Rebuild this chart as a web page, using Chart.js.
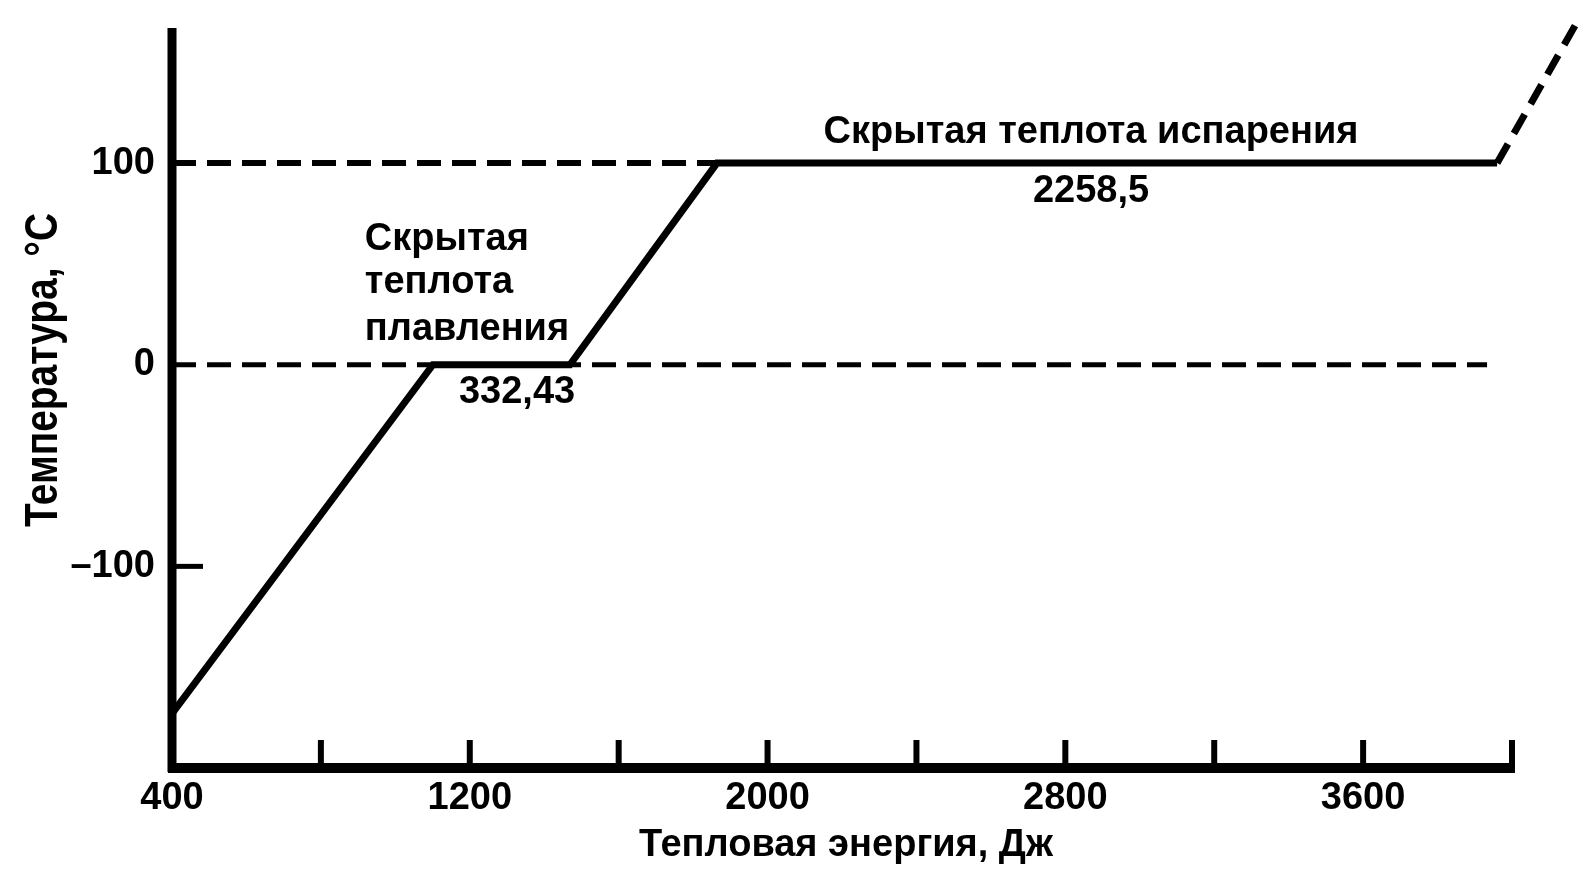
<!DOCTYPE html>
<html>
<head>
<meta charset="utf-8">
<script src="https://cdn.jsdelivr.net/npm/chart.js@4.4.1/dist/chart.umd.min.js"></script>
<style>
  html, body { margin: 0; padding: 0; background: #fff; }
  #wrap { width: 1581px; height: 871px; }
</style>
</head>
<body>
<div id="wrap"><canvas id="chart" width="1581" height="871"></canvas></div>
<script>
// Heating curve of water: heat energy (J) against temperature (°C)
const heatEnergy = [400, 1101, 1469, 1864, 3960];
const heatTemp = [-173, 0, 0, 100, 100];

// continuation into the gas phase (dashed)
const steamEnergy = [3960, 4178];
const steamTemp = [100, 171];

// dashed guide lines at the melting and boiling points
const meltGuideEnergy = [400, 3933];
const meltGuideTemp = [0, 0];
const boilGuideEnergy = [400, 1864];
const boilGuideTemp = [100, 100];

// axis ticks
const xTickValues = [400, 800, 1200, 1600, 2000, 2400, 2800, 3200, 3600, 4000];
const xTickLabels = ['400', '', '1200', '', '2000', '', '2800', '', '3600', ''];
const yTickValues = [-100, 0, 100];
const yTickLabels = ['\u2013100', '0', '100'];

// texts
const xTitle = 'Тепловая энергия, Дж';
const yTitle = 'Температура, °C';
const vaporLabel = 'Скрытая теплота испарения';
const vaporValue = '2258,5';
const fusionLabel = ['Скрытая', 'теплота', 'плавления'];
const fusionValue = '332,43';

const FONT = '"Liberation Sans", Arial, sans-serif';
const INK = '#000';

const pts = (xs, ys) => xs.map((x, i) => ({ x, y: ys[i] }));

// axis lines and inward tick marks
const axisPlugin = {
  id: 'axisLines',
  afterDatasetsDraw(chart) {
    const { ctx, chartArea: a, scales: { x, y } } = chart;
    ctx.save();
    ctx.strokeStyle = INK;
    ctx.lineCap = 'butt';
    // vertical axis
    ctx.lineWidth = 9;
    ctx.beginPath();
    ctx.moveTo(a.left, a.top);
    ctx.lineTo(a.left, a.bottom + 4);
    ctx.stroke();
    // horizontal axis up to the last tick
    const xEnd = x.getPixelForValue(xTickValues[xTickValues.length - 1]);
    ctx.lineWidth = 10;
    ctx.beginPath();
    ctx.moveTo(a.left - 4, a.bottom);
    ctx.lineTo(xEnd + 3, a.bottom);
    ctx.stroke();
    // x tick marks pointing up
    ctx.lineWidth = 6;
    xTickValues.slice(1).forEach(v => {
      const px = x.getPixelForValue(v);
      ctx.beginPath();
      ctx.moveTo(px, a.bottom);
      ctx.lineTo(px, a.bottom - 28);
      ctx.stroke();
    });
    // y tick mark at -100 pointing right
    ctx.lineWidth = 5;
    const py = y.getPixelForValue(yTickValues[0]);
    ctx.beginPath();
    ctx.moveTo(a.left, py);
    ctx.lineTo(a.left + 31, py);
    ctx.stroke();
    ctx.restore();
  }
};

// axis titles and phase annotations
const textPlugin = {
  id: 'phaseTexts',
  afterDraw(chart) {
    const { ctx, scales: { x, y } } = chart;
    ctx.save();
    ctx.fillStyle = INK;
    ctx.textBaseline = 'alphabetic';
    ctx.font = 'bold 38px ' + FONT;

    const put = (text, ex, ty, align) => {
      ctx.textAlign = align;
      ctx.fillText(text, x.getPixelForValue(ex), y.getPixelForValue(ty));
    };
    put(vaporLabel, 2869, 110, 'center');
    put(vaporValue, 2869, 80.5, 'center');
    put(fusionLabel[0], 918, 57, 'left');
    put(fusionLabel[1], 918, 35.5, 'left');
    put(fusionLabel[2], 918, 12.2, 'left');
    put(fusionValue, 1327, -19, 'center');

    // x title
    ctx.textAlign = 'center';
    ctx.fillText(xTitle, 846, 856);

    // y title, rotated and narrowed
    ctx.font = 'bold 46px ' + FONT;
    const w = ctx.measureText(yTitle).width;
    ctx.translate(57, 370);
    ctx.rotate(-Math.PI / 2);
    ctx.scale(314 / w, 1);
    ctx.textAlign = 'center';
    ctx.fillText(yTitle, 0, 0);
    ctx.restore();
  }
};

const tickFont = { family: FONT, size: 38, weight: 'bold' };

new Chart(document.getElementById('chart').getContext('2d'), {
  type: 'scatter',
  data: {
    datasets: [
      {
        data: pts(boilGuideEnergy, boilGuideTemp),
        showLine: true, borderColor: INK, borderWidth: 6, borderDash: [24, 11],
        pointRadius: 0, borderCapStyle: 'butt'
      },
      {
        data: pts(meltGuideEnergy, meltGuideTemp),
        showLine: true, borderColor: INK, borderWidth: 5, borderDash: [24, 11],
        pointRadius: 0, borderCapStyle: 'butt'
      },
      {
        data: pts(heatEnergy, heatTemp),
        showLine: true, borderColor: INK, borderWidth: 7,
        pointRadius: 0, borderJoinStyle: 'miter', tension: 0
      },
      {
        data: pts(steamEnergy, steamTemp),
        showLine: true, borderColor: INK, borderWidth: 7, borderDash: [22, 12],
        pointRadius: 0, clip: false
      }
    ]
  },
  options: {
    responsive: false,
    animation: false,
    events: [],
    layout: { padding: { top: 28, right: 2, left: 0, bottom: 0 } },
    plugins: { legend: { display: false }, tooltip: { enabled: false } },
    scales: {
      x: {
        type: 'linear', min: 400, max: 4180,
        afterBuildTicks: s => { s.ticks = xTickValues.map(v => ({ value: v })); },
        afterFit: s => { s.height = 103; s.paddingLeft = 0; s.paddingRight = 0; },
        ticks: {
          callback: (v, i) => xTickLabels[i],
          font: tickFont, color: INK, padding: 8,
          autoSkip: false, maxRotation: 0
        },
        grid: { display: false, drawTicks: false },
        border: { display: false }
      },
      y: {
        type: 'linear', min: -200, max: 167,
        afterBuildTicks: s => { s.ticks = yTickValues.map(v => ({ value: v })); },
        afterFit: s => { s.width = 172; s.paddingTop = 0; s.paddingBottom = 0; },
        ticks: {
          callback: (v, i) => yTickLabels[i],
          font: tickFont, color: INK, padding: 17,
          autoSkip: false
        },
        grid: { display: false, drawTicks: false },
        border: { display: false }
      }
    }
  },
  plugins: [axisPlugin, textPlugin]
});
</script>
</body>
</html>
